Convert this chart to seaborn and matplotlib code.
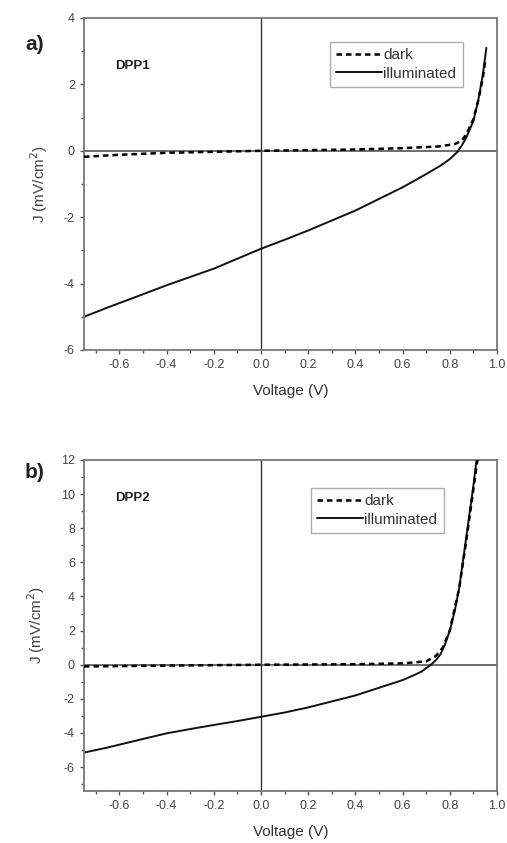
import numpy as np
import pandas as pd
import matplotlib.pyplot as plt
import seaborn as sns
from matplotlib.ticker import MultipleLocator

# DPP1 (panel a)
v1_ill = [-0.75, -0.65, -0.5, -0.4, -0.3, -0.2, -0.1, 0.0, 0.1, 0.2, 0.3, 0.4, 0.5, 0.6, 0.7,
          0.76, 0.8, 0.83, 0.85, 0.87, 0.9, 0.92, 0.94, 0.955]
j1_ill = [-5.0, -4.72, -4.32, -4.05, -3.8, -3.55, -3.25, -2.95, -2.68, -2.4, -2.1, -1.8, -1.45, -1.1, -0.7,
          -0.45, -0.25, -0.05, 0.15, 0.4, 0.9, 1.5, 2.3, 3.1]
v1_dark = [-0.75, -0.6, -0.4, -0.2, 0.0, 0.2, 0.4, 0.6, 0.75, 0.82, 0.85, 0.87, 0.9, 0.92, 0.94, 0.95]
j1_dark = [-0.18, -0.12, -0.06, -0.03, 0.0, 0.02, 0.04, 0.08, 0.13, 0.2, 0.3, 0.5, 0.95, 1.5, 2.2, 2.7]

# DPP2 (panel b)
v2_ill = [-0.75, -0.65, -0.5, -0.4, -0.3, -0.2, -0.1, 0.0, 0.1, 0.2, 0.3, 0.4, 0.5, 0.6, 0.65,
          0.68, 0.7, 0.72, 0.74, 0.76, 0.78, 0.8, 0.82, 0.84, 0.87, 0.9, 0.915]
j2_ill = [-5.15, -4.85, -4.35, -4.02, -3.77, -3.53, -3.3, -3.05, -2.8, -2.5, -2.15, -1.8, -1.35, -0.9, -0.6,
          -0.4, -0.2, 0.0, 0.25, 0.6, 1.2, 2.0, 3.1, 4.5, 7.5, 10.5, 12.2]
v2_dark = [-0.75, -0.4, 0.0, 0.4, 0.6, 0.7, 0.74, 0.77, 0.8, 0.84, 0.87, 0.9, 0.92]
j2_dark = [-0.1, -0.05, 0.0, 0.03, 0.08, 0.2, 0.5, 1.0, 2.0, 4.5, 7.3, 10.3, 12.3]

sns.set_style("ticks")
plt.rcParams['font.family'] = ['Liberation Sans', 'DejaVu Sans']
plt.rcParams['axes.unicode_minus'] = False

fig = plt.figure(figsize=(5.07, 8.43), dpi=100)
W, H = 507, 843


def make_ax(left, top, right, bottom):
    return fig.add_axes([left / W, 1 - bottom / H, (right - left) / W, (bottom - top) / H])


ax1 = make_ax(84, 18, 497, 350)
ax2 = make_ax(84, 460, 497, 791)

panels = [
    (ax1, 18, 350, v1_dark, j1_dark, v1_ill, j1_ill, (-6, 4), "DPP1", 2.55, (330, 42), "a)", 45),
    (ax2, 460, 791, v2_dark, j2_dark, v2_ill, j2_ill, (-7.4, 12), "DPP2", 9.8, (311, 488), "b)", 473),
]

xt = np.round(np.arange(-0.6, 1.01, 0.2), 1)

for ax, atop, abot, vd, jd, vi, ji, ylim, name, ny, leg, tag, tagy in panels:
    dark = pd.DataFrame({"V": vd, "J": jd})
    ill = pd.DataFrame({"V": vi, "J": ji})
    ax.axhline(0, color="#555555", lw=1.2, zorder=1)
    ax.axvline(0, color="#333333", lw=1.0, zorder=1)
    sns.lineplot(data=dark, x="V", y="J", ax=ax, color="black", lw=1.8,
                 linestyle=(0, (2.2, 1.6)), label="dark", zorder=3)
    sns.lineplot(data=ill, x="V", y="J", ax=ax, color="#111111", lw=1.4,
                 label="illuminated", zorder=2)
    ax.set_xlim(-0.75, 1.0)
    ax.set_ylim(*ylim)
    ax.set_xticks(xt)
    ax.set_xticklabels([f"{t:.1f}" for t in xt])
    ax.xaxis.set_minor_locator(MultipleLocator(0.1))
    ax.yaxis.set_major_locator(MultipleLocator(2))
    ax.yaxis.set_minor_locator(MultipleLocator(1))
    ax.tick_params(which="major", direction="out", length=3, width=1, colors="#555555",
                   labelsize=9, labelcolor="#444444")
    ax.tick_params(which="minor", direction="out", length=2, width=1, colors="#555555")
    for s in ax.spines.values():
        s.set_color("#777777")
        s.set_linewidth(1.3)
    ax.set_xlabel("Voltage (V)", fontsize=11, color="#333333", labelpad=9)
    ax.set_ylabel("J (mV/cm$^{2}$)", fontsize=11, color="#444444", labelpad=10)
    ax.text(-0.62, ny, name, fontsize=9.5, fontweight="bold", color="#222222", va="center")
    l, t = leg
    top_frac = (abot - t) / (abot - atop)
    lg = ax.legend(loc="upper left", bbox_to_anchor=((l - 84) / 413, top_frac),
                   frameon=True, fontsize=11, handlelength=3.0, handletextpad=0.1,
                   borderpad=0.4, labelspacing=0.3, borderaxespad=0, fancybox=False)
    lg.get_frame().set_edgecolor("#999999")
    lg.get_frame().set_linewidth(1.0)
    for txt in lg.get_texts():
        txt.set_color("#333333")
    fig.text(25 / W, 1 - tagy / H, tag, fontsize=15, fontweight="bold", va="center",
             ha="left", color="#222222")

fig.savefig("out.png", dpi=100)
